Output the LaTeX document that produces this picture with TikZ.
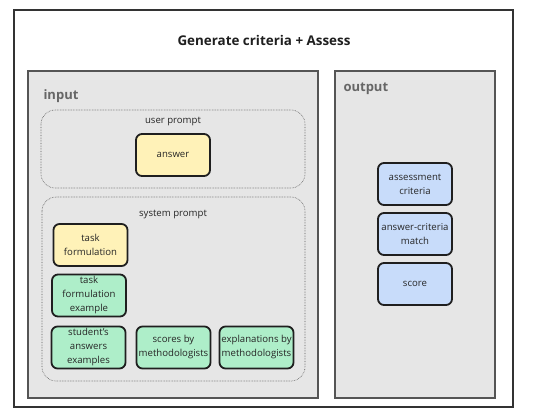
\documentclass[tikz,border=0pt]{standalone}
\usepackage{fontspec}
\setmainfont{Open Sans}
\usepackage{xcolor}
\usetikzlibrary{positioning}
\definecolor{panelgray}{HTML}{E6E6E6}
\definecolor{panelline}{HTML}{555555}
\definecolor{boxyellow}{HTML}{FFF2B8}
\definecolor{boxgreen}{HTML}{AEEEC9}
\definecolor{boxblue}{HTML}{C8DCFA}
\tikzset{
  item/.style={draw=black!88,line width=1.8pt,rounded corners=6pt,minimum width=74pt,minimum height=42pt,
    align=center,inner sep=1pt,font=\fontsize{9.6}{14}\selectfont,text=black!85},
  panel/.style={draw=panelline,line width=1.5pt,fill=panelgray},
  prompt/.style={draw=black!65,densely dotted,line width=0.6pt,rounded corners=14pt},
}
\begin{document}
\begin{tikzpicture}[x=1pt,y=-1pt]
\useasboundingbox (0,0) rectangle (549,420);

%frame
\draw [line width=1.5pt,draw=black!80,fill=white] (14,10) rectangle (513,407);
\node (title) at (264,40) {\fontsize{13.4}{16}\selectfont\bfseries\color{black!88}Generate criteria + Assess};

%input
\draw [panel] (28,71) rectangle (318,398);
\node [anchor=west] (inlabel) at (40,96) {\fontsize{13}{15}\selectfont\bfseries\color{black!60}input};

%user prompt
\draw [prompt] (41,110) rectangle (305,188);
\node (userlabel) at (173,121) {\fontsize{9.6}{11}\selectfont\color{black!85}user prompt};
\node [item,fill=boxyellow] (answer) at (173,155) {answer};

%system prompt
\draw [prompt] (42,197) rectangle (305,381);
\node (syslabel) at (173,214) {\fontsize{9.6}{11}\selectfont\color{black!85}system prompt};
\node [item,fill=boxyellow] (taskform) at (90.5,245) {task\\formulation};
\node [item,fill=boxgreen] (taskex) at (89,295.5) {task\\formulation\\example};
\node [item,fill=boxgreen] (students) at (88.5,347.5) {student's\\answers\\examples};
\node [item,fill=boxgreen] (scores) at (173.5,347.5) {scores by\\methodologists};
\node [item,fill=boxgreen] (explain) at (256.5,347.5) {explanations by\\methodologists};

%output
\draw [panel] (335,71) rectangle (495,398);
\node [anchor=west] (outlabel) at (340,89) {\fontsize{13}{15}\selectfont\bfseries\color{black!60}output};
\node [item,fill=boxblue] (criteria) at (415,184) {assessment\\criteria};
\node [item,fill=boxblue] (match) at (415,234) {answer-criteria\\match};
\node [item,fill=boxblue] (score) at (415,284) {score};
\end{tikzpicture}
\end{document}
